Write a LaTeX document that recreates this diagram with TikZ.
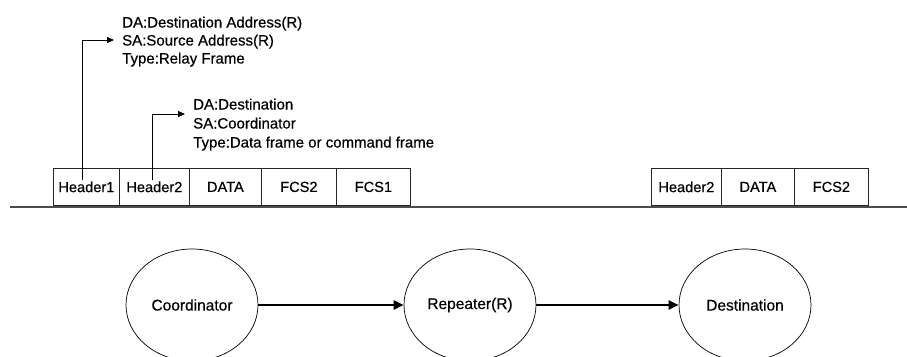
\documentclass[tikz,border=0pt]{standalone}
\usepackage{fontspec}
\setmainfont{Liberation Sans}
\newfontfamily\txtfont{Liberation Sans}[FakeBold=0.5]
\usetikzlibrary{arrows.meta,shapes.geometric}
\begin{document}
\begin{tikzpicture}[x=1pt,y=-1pt,
  fbox/.style={draw=black!85, line width=0.8pt, minimum height=37pt, inner sep=0pt, anchor=north west, font=\txtfont\fontsize{14.6}{16}\selectfont},
  lbl/.style={inner sep=0pt, anchor=base west, font=\txtfont\fontsize{15}{17}\selectfont},
  ell/.style={ellipse, draw, line width=0.7pt, minimum width=132pt, minimum height=112pt, inner sep=0pt, font=\txtfont\fontsize{15.5}{17}\selectfont},
  ptr/.style={line width=0.8pt, -{Triangle[length=7pt,width=6pt]}},
  bigarrow/.style={line width=2.6pt, -{Triangle[length=10pt,width=9pt]}}
]
\useasboundingbox (0,0) rectangle (907,356);
\clip (0,0) rectangle (907,356);

% base line
\coordinate (bl) at (10,207);
\coordinate (br) at (907,207);
\draw[line width=1.2pt, black!70] (bl) -- (br);

% left frame
\node[fbox, minimum width=66pt] (h1) at (53,168) {Header1};
\node[fbox, minimum width=70pt] (h2) at (119,168) {Header2};
\node[fbox, minimum width=72pt] (d1) at (189,168) {DATA};
\node[fbox, minimum width=75pt] (f2) at (261,168) {FCS2};
\node[fbox, minimum width=74pt] (f1) at (336,168) {FCS1};

% right frame
\node[fbox, minimum width=70pt] (rh2) at (651,168) {Header2};
\node[fbox, minimum width=73pt] (rd) at (721,168) {DATA};
\node[fbox, minimum width=74pt] (rf2) at (794,168) {FCS2};

% labels group 1
\node[lbl] (da1) at (122,27.5) {DA:Destination Address(R)};
\node[lbl] (sa1) at (122,45.5) {SA:Source Address(R)};
\node[lbl] (ty1) at (122,63.5) {Type:Relay Frame};

% labels group 2
\node[lbl] (da2) at (193,109.5) {DA:Destination};
\node[lbl] (sa2) at (193,128.5) {SA:Coordinator};
\node[lbl] (ty2) at (193,147.5) {Type:Data frame or command frame};

% pointer arrows
\coordinate (a1s) at (82,180);
\coordinate (a1e) at (114,40);
\draw[ptr] (a1s) |- (a1e);
\coordinate (a2s) at (152,180);
\coordinate (a2e) at (185,114);
\draw[ptr] (a2s) |- (a2e);

% nodes
\node[ell] (co) at (192,305) {Coordinator};
\node[ell] (re) at (470,305) {Repeater(R)};
\node[ell] (de) at (745,305) {Destination};
\draw[bigarrow] (co) -- (re);
\draw[bigarrow] (re) -- (de);
\end{tikzpicture}
\end{document}
